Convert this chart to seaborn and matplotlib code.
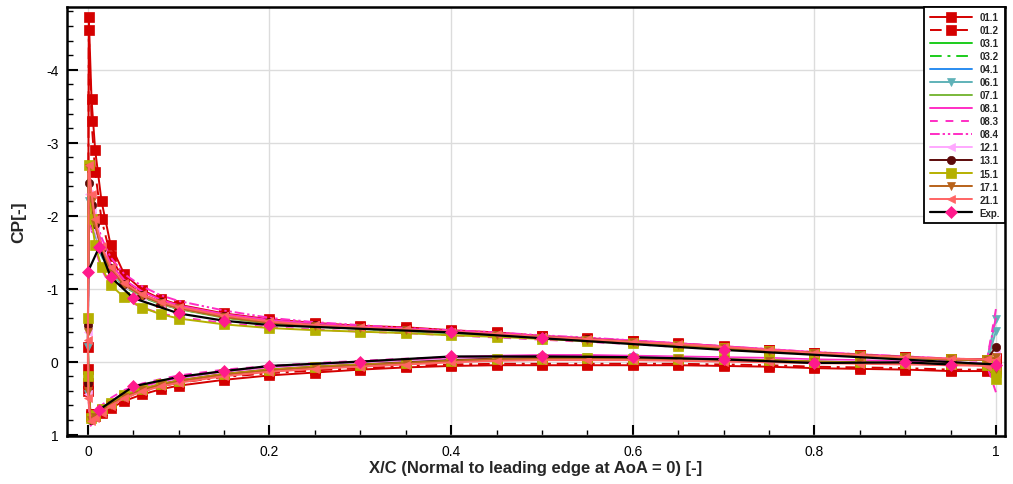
import matplotlib
matplotlib.use("Agg")
import matplotlib.pyplot as plt
import seaborn as sns
from matplotlib.ticker import MultipleLocator, FixedLocator, FixedFormatter

# ---------------- data ----------------
XU = [0.0, 0.001, 0.004, 0.008, 0.015, 0.025, 0.04, 0.06, 0.08, 0.1, 0.15, 0.2, 0.25, 0.3,
      0.35, 0.4, 0.45, 0.5, 0.55, 0.6, 0.65, 0.7, 0.75, 0.8, 0.85, 0.9, 0.95, 0.99, 1.0]
XL = [0.0005, 0.003, 0.008, 0.015, 0.025, 0.04, 0.06, 0.08, 0.1, 0.15, 0.2, 0.25, 0.3,
      0.35, 0.4, 0.45, 0.5, 0.55, 0.6, 0.65, 0.7, 0.75, 0.8, 0.85, 0.9, 0.95, 0.99, 1.0]

cp_01_1_up = [0.1, -4.72, -3.6, -2.9, -2.2, -1.6, -1.2, -0.98, -0.86, -0.78, -0.66, -0.58, -0.53, -0.49,
              -0.47, -0.43, -0.40, -0.35, -0.32, -0.28, -0.25, -0.21, -0.16, -0.12, -0.09, -0.06, -0.03, -0.02, -0.05]
cp_01_1_lo = [0.4, 0.75, 0.74, 0.70, 0.64, 0.54, 0.45, 0.38, 0.33, 0.25, 0.19, 0.15, 0.11,
              0.08, 0.06, 0.05, 0.05, 0.05, 0.05, 0.05, 0.06, 0.07, 0.09, 0.10, 0.11, 0.13, 0.13, 0.12]
cp_01_2_up = [-0.2, -4.55, -3.3, -2.6, -1.95, -1.45, -1.1, -0.92, -0.82, -0.75, -0.64, -0.56, -0.51, -0.48,
              -0.45, -0.42, -0.39, -0.35, -0.31, -0.28, -0.24, -0.20, -0.16, -0.12, -0.09, -0.06, -0.03, -0.02, -0.03]
cp_01_2_lo = [0.3, 0.72, 0.72, 0.67, 0.6, 0.5, 0.41, 0.34, 0.29, 0.21, 0.16, 0.12, 0.09,
              0.06, 0.04, 0.03, 0.03, 0.03, 0.03, 0.03, 0.04, 0.05, 0.07, 0.08, 0.09, 0.11, 0.11, 0.1]
cp_03_1_up = [-0.4, -2.3, -2.05, -1.8, -1.5, -1.25, -1.05, -0.9, -0.8, -0.73, -0.62, -0.54, -0.49, -0.46,
              -0.43, -0.40, -0.37, -0.33, -0.30, -0.27, -0.23, -0.19, -0.15, -0.12, -0.09, -0.06, -0.03, -0.02, 0.0]
cp_03_1_lo = [0.45, 0.8, 0.74, 0.66, 0.57, 0.46, 0.37, 0.3, 0.25, 0.16, 0.1, 0.06, 0.03,
              0.0, -0.03, -0.05, -0.06, -0.06, -0.06, -0.05, -0.04, -0.03, -0.01, 0.0, 0.02, 0.03, 0.04, 0.05]
cp_03_2_up = [-0.5, -2.2, -2.0, -1.75, -1.47, -1.22, -1.03, -0.88, -0.79, -0.72, -0.61, -0.53, -0.48, -0.45,
              -0.42, -0.39, -0.36, -0.33, -0.29, -0.26, -0.22, -0.18, -0.15, -0.11, -0.08, -0.05, -0.03, -0.02, 0.01]
cp_03_2_lo = [0.4, 0.79, 0.73, 0.65, 0.56, 0.45, 0.36, 0.3, 0.24, 0.16, 0.1, 0.06, 0.03,
              0.0, -0.02, -0.04, -0.05, -0.06, -0.05, -0.05, -0.04, -0.02, -0.01, 0.01, 0.02, 0.03, 0.04, 0.05]
cp_04_1_up = [-0.3, -2.4, -2.1, -1.83, -1.52, -1.27, -1.06, -0.91, -0.81, -0.74, -0.62, -0.54, -0.5, -0.46,
              -0.43, -0.40, -0.37, -0.34, -0.30, -0.27, -0.23, -0.19, -0.15, -0.12, -0.09, -0.06, -0.03, -0.02, 0.02]
cp_04_1_lo = [0.45, 0.8, 0.75, 0.67, 0.58, 0.47, 0.38, 0.31, 0.25, 0.17, 0.11, 0.07, 0.03,
              0.01, -0.02, -0.04, -0.05, -0.06, -0.05, -0.05, -0.04, -0.02, -0.01, 0.01, 0.02, 0.03, 0.04, 0.06]
cp_06_1_up = [-0.2, -2.2, -2.0, -1.75, -1.46, -1.22, -1.03, -0.89, -0.79, -0.72, -0.61, -0.53, -0.49, -0.45,
              -0.42, -0.39, -0.36, -0.33, -0.30, -0.26, -0.22, -0.18, -0.15, -0.11, -0.08, -0.05, -0.03, -0.02, -0.58]
cp_06_1_lo = [0.45, 0.8, 0.74, 0.66, 0.57, 0.46, 0.37, 0.3, 0.25, 0.16, 0.1, 0.06, 0.03,
              0.0, -0.03, -0.05, -0.06, -0.06, -0.06, -0.05, -0.04, -0.03, -0.01, 0.0, 0.02, 0.03, 0.03, -0.42]
cp_07_1_up = [-0.4, -2.5, -2.15, -1.85, -1.52, -1.26, -1.04, -0.89, -0.79, -0.72, -0.6, -0.52, -0.48, -0.45,
              -0.42, -0.39, -0.36, -0.33, -0.29, -0.26, -0.22, -0.18, -0.14, -0.11, -0.08, -0.05, -0.03, -0.02, 0.0]
cp_07_1_lo = [0.45, 0.81, 0.75, 0.67, 0.58, 0.47, 0.38, 0.31, 0.26, 0.17, 0.11, 0.07, 0.04,
              0.01, -0.02, -0.04, -0.05, -0.05, -0.05, -0.04, -0.03, -0.02, 0.0, 0.01, 0.03, 0.04, 0.05, 0.06]
cp_08_1_up = [-0.3, -2.6, -2.25, -1.95, -1.62, -1.34, -1.12, -0.96, -0.85, -0.77, -0.65, -0.57, -0.52, -0.48,
              -0.45, -0.42, -0.39, -0.35, -0.32, -0.29, -0.25, -0.21, -0.17, -0.13, -0.1, -0.07, -0.04, -0.03, 0.0]
cp_08_1_lo = [0.45, 0.82, 0.74, 0.65, 0.55, 0.43, 0.34, 0.27, 0.22, 0.13, 0.07, 0.03, 0.0,
              -0.03, -0.06, -0.08, -0.09, -0.09, -0.08, -0.07, -0.06, -0.05, -0.03, -0.02, 0.0, 0.01, 0.03, 0.05]
cp_08_3_up = [-0.5, -2.0, -1.8, -1.55, -1.27, -1.03, -0.86, -0.74, -0.66, -0.61, -0.53, -0.47, -0.44, -0.41,
              -0.39, -0.36, -0.33, -0.30, -0.27, -0.24, -0.20, -0.17, -0.13, -0.10, -0.07, -0.04, -0.02, -0.01, -0.72]
cp_08_3_lo = [0.4, 0.78, 0.7, 0.6, 0.5, 0.39, 0.3, 0.24, 0.19, 0.11, 0.06, 0.02, -0.01,
              -0.04, -0.06, -0.07, -0.08, -0.08, -0.07, -0.06, -0.05, -0.04, -0.02, -0.01, 0.01, 0.02, 0.05, 0.42]
cp_08_4_up = [-0.3, -2.4, -2.2, -1.98, -1.7, -1.43, -1.2, -1.03, -0.91, -0.83, -0.7, -0.6, -0.54, -0.5,
              -0.46, -0.43, -0.40, -0.36, -0.33, -0.29, -0.25, -0.21, -0.17, -0.13, -0.10, -0.07, -0.04, -0.03, -0.6]
cp_08_4_lo = [0.5, 0.88, 0.8, 0.7, 0.58, 0.46, 0.36, 0.29, 0.24, 0.15, 0.09, 0.05, 0.02,
              -0.01, -0.04, -0.06, -0.07, -0.07, -0.07, -0.06, -0.05, -0.04, -0.02, -0.01, 0.01, 0.02, 0.05, 0.3]
cp_12_1_up = [-0.4, -2.3, -2.05, -1.8, -1.5, -1.25, -1.05, -0.9, -0.8, -0.73, -0.62, -0.54, -0.5, -0.46,
              -0.43, -0.40, -0.37, -0.34, -0.30, -0.27, -0.23, -0.19, -0.15, -0.11, -0.08, -0.05, -0.03, -0.02, -0.1]
cp_12_1_lo = [0.45, 0.8, 0.74, 0.66, 0.57, 0.46, 0.37, 0.3, 0.25, 0.16, 0.1, 0.06, 0.03,
              0.0, -0.03, -0.05, -0.06, -0.06, -0.06, -0.05, -0.04, -0.03, -0.01, 0.0, 0.02, 0.03, 0.04, 0.1]
cp_13_1_up = [-0.5, -2.45, -2.15, -1.88, -1.55, -1.28, -1.07, -0.91, -0.81, -0.74, -0.62, -0.54, -0.5, -0.46,
              -0.43, -0.40, -0.37, -0.34, -0.31, -0.27, -0.23, -0.19, -0.15, -0.12, -0.09, -0.06, -0.03, -0.03, -0.2]
cp_13_1_lo = [0.3, 0.8, 0.75, 0.67, 0.58, 0.47, 0.38, 0.31, 0.26, 0.17, 0.11, 0.07, 0.04,
              0.01, -0.02, -0.04, -0.05, -0.05, -0.05, -0.04, -0.03, -0.02, 0.0, 0.01, 0.03, 0.04, 0.05, 0.24]
cp_15_1_up = [-0.6, -2.7, -1.95, -1.6, -1.3, -1.05, -0.88, -0.74, -0.65, -0.59, -0.51, -0.46, -0.43, -0.41,
              -0.39, -0.36, -0.34, -0.31, -0.28, -0.25, -0.21, -0.18, -0.14, -0.11, -0.08, -0.05, -0.03, -0.02, 0.14]
cp_15_1_lo = [0.2, 0.78, 0.73, 0.65, 0.57, 0.46, 0.37, 0.31, 0.26, 0.17, 0.11, 0.07, 0.04,
              0.02, -0.01, -0.03, -0.04, -0.05, -0.04, -0.04, -0.03, -0.02, 0.0, 0.01, 0.02, 0.03, 0.05, 0.24]
cp_17_1_up = [-0.4, -2.65, -2.2, -1.88, -1.53, -1.26, -1.05, -0.9, -0.8, -0.73, -0.61, -0.53, -0.49, -0.46,
              -0.43, -0.40, -0.37, -0.33, -0.30, -0.27, -0.23, -0.19, -0.15, -0.12, -0.09, -0.06, -0.03, -0.02, -0.06]
cp_17_1_lo = [0.4, 0.8, 0.76, 0.68, 0.59, 0.48, 0.39, 0.32, 0.27, 0.18, 0.12, 0.08, 0.05,
              0.02, -0.01, -0.03, -0.04, -0.04, -0.04, -0.03, -0.02, -0.01, 0.01, 0.02, 0.03, 0.04, 0.05, 0.1]
cp_21_1_up = [-0.3, -2.7, -2.3, -1.95, -1.58, -1.3, -1.08, -0.92, -0.82, -0.75, -0.63, -0.55, -0.5, -0.47,
              -0.44, -0.41, -0.38, -0.34, -0.31, -0.27, -0.24, -0.2, -0.16, -0.12, -0.09, -0.06, -0.04, -0.03, -0.02]
cp_21_1_lo = [0.5, 0.82, 0.77, 0.7, 0.61, 0.5, 0.41, 0.34, 0.29, 0.2, 0.14, 0.1, 0.07,
              0.04, 0.01, -0.01, -0.02, -0.02, -0.02, -0.01, 0.0, 0.01, 0.02, 0.03, 0.04, 0.05, 0.06, 0.06]

exp_x_up = [0.0, 0.0125, 0.025, 0.05, 0.1, 0.15, 0.2, 0.4, 0.5, 0.7, 1.0]
exp_cp_up = [-1.23, -1.57, -1.16, -0.87, -0.66, -0.56, -0.50, -0.40, -0.32, -0.16, 0.04]
exp_x_lo = [0.0125, 0.05, 0.1, 0.15, 0.2, 0.3, 0.4, 0.5, 0.6, 0.7, 0.8, 0.9, 0.95]
exp_cp_lo = [0.66, 0.34, 0.21, 0.13, 0.06, 0.0, -0.07, -0.07, -0.06, -0.03, 0.02, 0.01, 0.04]

series_names = ["01.1", "01.2", "03.1", "03.2", "04.1", "06.1", "07.1", "08.1",
                "08.3", "08.4", "12.1", "13.1", "15.1", "17.1", "21.1"]
series_up = [cp_01_1_up, cp_01_2_up, cp_03_1_up, cp_03_2_up, cp_04_1_up, cp_06_1_up, cp_07_1_up,
             cp_08_1_up, cp_08_3_up, cp_08_4_up, cp_12_1_up, cp_13_1_up, cp_15_1_up, cp_17_1_up, cp_21_1_up]
series_lo = [cp_01_1_lo, cp_01_2_lo, cp_03_1_lo, cp_03_2_lo, cp_04_1_lo, cp_06_1_lo, cp_07_1_lo,
             cp_08_1_lo, cp_08_3_lo, cp_08_4_lo, cp_12_1_lo, cp_13_1_lo, cp_15_1_lo, cp_17_1_lo, cp_21_1_lo]

x_ticks = [0, 0.2, 0.4, 0.6, 0.8, 1.0]
x_tick_labels = ["0", "0.2", "0.4", "0.6", "0.8", "1"]
y_ticks = [-4, -3, -2, -1, 0, 1]
y_tick_labels = ["-4", "-3", "-2", "-1", "0", "1"]

# ---------------- styles ----------------
styles = {
    "01.1": dict(color="#d40000", ls="-", marker="s"),
    "01.2": dict(color="#d40000", ls=(0, (6, 3, 1.5, 3)), marker="s"),
    "03.1": dict(color="#1ccc1c", ls="-", marker=None),
    "03.2": dict(color="#1ccc1c", ls=(0, (6, 3, 1.5, 3)), marker=None),
    "04.1": dict(color="#2a8cf0", ls="-", marker=None),
    "06.1": dict(color="#5fb2b8", ls="-", marker="v"),
    "07.1": dict(color="#7ab83a", ls="-", marker=None),
    "08.1": dict(color="#ff2ec4", ls="-", marker=None),
    "08.3": dict(color="#ff2ec4", ls=(0, (4, 4)), marker=None),
    "08.4": dict(color="#ff2ec4", ls=(0, (5, 1.5, 1.2, 1.5, 1.2, 1.5)), marker=None),
    "12.1": dict(color="#ffa8ff", ls="-", marker="<"),
    "13.1": dict(color="#5c0a0a", ls="-", marker="o"),
    "15.1": dict(color="#b5b000", ls="-", marker="s"),
    "17.1": dict(color="#b8621a", ls="-", marker="v"),
    "21.1": dict(color="#ff6464", ls="-", marker="<"),
}

# ---------------- figure ----------------
sns.set_theme(style="white")
plt.rcParams["font.family"] = ["Liberation Sans", "DejaVu Sans"]
plt.rcParams["axes.unicode_minus"] = False

fig = plt.figure(figsize=(10.13, 4.85), dpi=100)
ax = fig.add_axes([67 / 1013, 1 - 437 / 485, (1005 - 67) / 1013, (437 - 8) / 485])

for name, up, lo in zip(series_names, series_up, series_lo):
    st = styles[name]
    xs = list(reversed(XU)) + XL
    ys = list(reversed(up)) + lo
    kw = dict(color=st["color"], linestyle=st["ls"], linewidth=1.4)
    if st["marker"]:
        kw.update(marker=st["marker"], markersize=6 if st["marker"] != "s" else 6.5,
                  markeredgecolor=st["color"], markerfacecolor=st["color"], markeredgewidth=0.5)
    sns.lineplot(x=xs, y=ys, sort=False, estimator=None, ax=ax, label=name, **kw)

exp_kw = dict(color="black", linewidth=1.6, marker="D", markersize=6,
              markerfacecolor="#ff1a8c", markeredgecolor="#ff1a8c", markeredgewidth=0.5)
sns.lineplot(x=exp_x_up, y=exp_cp_up, sort=False, estimator=None, ax=ax, label="Exp.", **exp_kw)
sns.lineplot(x=exp_x_lo, y=exp_cp_lo, sort=False, estimator=None, ax=ax, label="_nolegend_", **exp_kw)

ax.set_xlim(-0.023, 1.01)
ax.set_ylim(1.02, -4.86)

ax.xaxis.set_major_locator(FixedLocator(x_ticks))
ax.xaxis.set_major_formatter(FixedFormatter(x_tick_labels))
ax.yaxis.set_major_locator(FixedLocator(y_ticks))
ax.yaxis.set_major_formatter(FixedFormatter(y_tick_labels))
ax.xaxis.set_minor_locator(MultipleLocator(0.05))
ax.yaxis.set_minor_locator(MultipleLocator(0.2))

ax.tick_params(axis="both", which="major", direction="in", length=8, width=1.5,
               labelsize=10, colors="black", pad=6, left=True, bottom=True)
ax.tick_params(axis="both", which="minor", direction="in", length=4, width=1.0,
               colors="black", left=True, bottom=True)

ax.grid(True, which="major", color="#dcdcdc", linewidth=1.0)
ax.set_axisbelow(True)
for s in ax.spines.values():
    s.set_color("black")
    s.set_linewidth(1.8)

ax.set_xlabel("X/C (Normal to leading edge at AoA = 0) [-]", fontsize=12, fontweight="bold", labelpad=1)
ax.set_ylabel("CP[-]", fontsize=12.5, fontweight="bold", labelpad=14)

leg = ax.legend(loc="upper right", bbox_to_anchor=(1.0, 1.0), borderaxespad=0.0,
                prop=dict(size=7, weight="bold"), handlelength=4.4, handletextpad=0.7,
                labelspacing=0.31, borderpad=0.55, fancybox=False, framealpha=1.0,
                edgecolor="black", numpoints=1)
leg.get_frame().set_linewidth(1.3)

fig.savefig("out.png", dpi=100, facecolor="white")
